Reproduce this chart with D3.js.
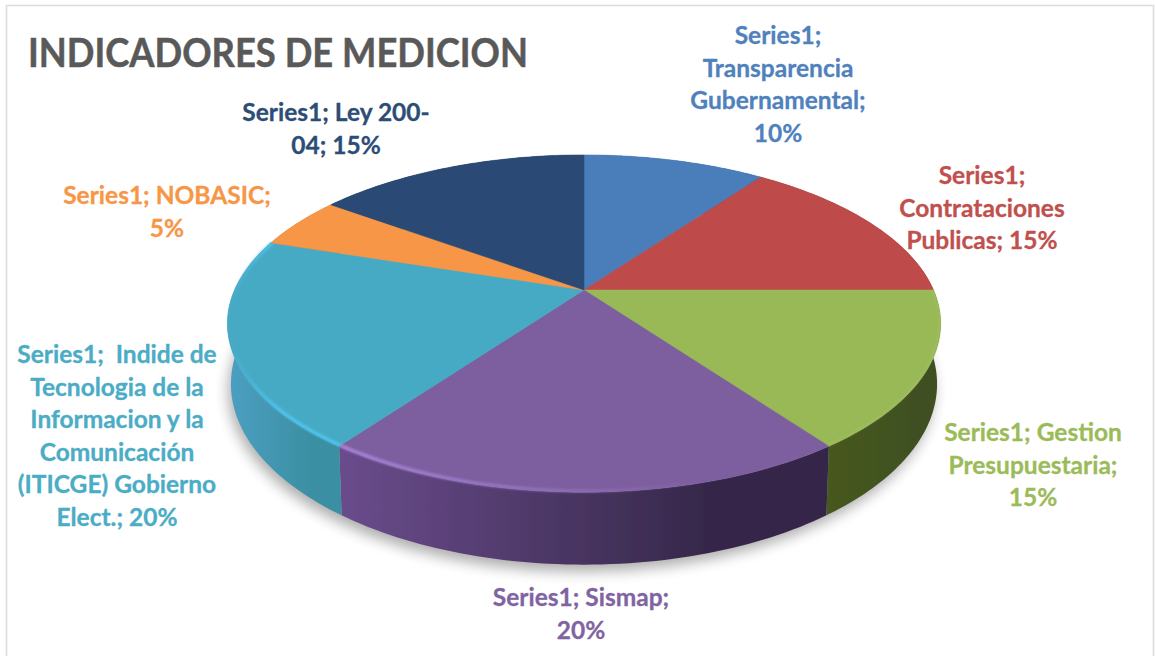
<!DOCTYPE html>
<html><head><meta charset="utf-8">
<script src="https://cdn.jsdelivr.net/npm/d3@7/dist/d3.min.js"></script>
<style>html,body{margin:0;background:#fff}svg{display:block}</style>
</head><body><div id="c"></div>
<script>
const chartTitle = "INDICADORES DE MEDICION";
const categories = ["Transparencia Gubernamental","Contrataciones Publicas","Gestion Presupuestaria","Sismap","Indide de Tecnologia de la Informacion y la Comunicación (ITICGE) Gobierno Elect.","NOBASIC","Ley 200-04"];
const values = [10,15,15,20,20,5,15];
const faceColors = ["#4a7ebb","#be4b48","#98b954","#7d5fa0","#46aac5","#f79646","#2a4a74"];
const sideLeft  = ["#34598a","#7a2f2d","#47581f","#6a4c8c","#4c9fc2","#b06a2f","#1c3350"];
const sideRight = ["#34598a","#6e2a28","#3f5020","#36284a","#3b8fa2","#b06a2f","#1c3350"];
const rimColors = [null,null,"#a9c472","#a883d6","#4fc3ee",null,null];
const labelColors = ["#4f81bd","#c0504d","#9bbb59","#8064a2","#4bacc6","#f79646","#2c4d75"];
const labelLines = [
  ["Series1;","Transparencia","Gubernamental;","10%"],
  ["Series1;","Contrataciones","Publicas; 15%"],
  ["Series1; Gestion","Presupuestaria;","15%"],
  ["Series1; Sismap;","20%"],
  ["Series1;  Indide de","Tecnologia de la","Informacion y la","Comunicación","(ITICGE) Gobierno","Elect.; 20%"],
  ["Series1; NOBASIC;","5%"],
  ["Series1; Ley 200-","04; 15%"]
];

const W = 1156, H = 656;
const labelCenterX = [778,982,1033,581,117,167,336];
const labelFirstBaseline = [44,184,441,606,363,204,121];
const lineStep = 32.6;

const svg = d3.select("#c").append("svg").attr("width",W).attr("height",H);
const defs = svg.append("defs");
const addBlur = (id,s)=>defs.append("filter").attr("id",id)
  .attr("x","-20%").attr("y","-20%").attr("width","140%").attr("height","140%")
  .append("feGaussianBlur").attr("stdDeviation",s);
addBlur("shadow",7); addBlur("soft",0.7); addBlur("rim",1.1);

// frame
svg.append("path").attr("d",`M6.5,${H} V5.5 H1153.5 V${H}`).attr("fill","none").attr("stroke","#dcdcdc").attr("stroke-width",1.6);

// perspective projection of a tilted disc
const cx = 584, cy = 290, a = 349.5, b = 162, k = 0.199, depth = 58, shrink = 0.99;
const upper = t => { const x=Math.sin(t), y=-Math.cos(t), w=1-k*y; return [cx+a*x/w, cy+b*y/w]; };
const lower = t => { const x=Math.sin(t), y=-Math.cos(t), w=1-k*y; return [cx+shrink*a*x/w, cy+(b*y+depth)/w]; };
const pathOf = d3.line();
const arcPts = (f,t0,t1) => d3.range(0,61).map(i=>f(t0+(t1-t0)*i/60));

const arcs = d3.pie().sort(null)(values);

// drop shadow
const full = arcPts(lower,0,2*Math.PI);
svg.append("path").attr("d",pathOf(full)+"Z").attr("transform","translate(-3,7)")
  .attr("fill","#000").attr("opacity",0.32).attr("filter","url(#shadow)");

const pieG = svg.append("g").attr("filter","url(#soft)");

// side walls
const sides = pieG.append("g");
arcs.forEach((d,i)=>{
  const t0=d.startAngle, t1=d.endAngle;
  const p = arcPts(upper,t0,t1), q = arcPts(lower,t0,t1).reverse();
  const xs = p.map(v=>v[0]);
  const g = defs.append("linearGradient").attr("id","side"+i).attr("gradientUnits","userSpaceOnUse")
    .attr("x1",d3.min(xs)).attr("x2",d3.max(xs)).attr("y1",0).attr("y2",0);
  g.append("stop").attr("offset",0).attr("stop-color",sideLeft[i]);
  g.append("stop").attr("offset",0.75).attr("stop-color",sideRight[i]);
  g.append("stop").attr("offset",1).attr("stop-color",sideRight[i]);
  sides.append("path").attr("d",pathOf(p.concat(q))+"Z").attr("fill",`url(#side${i})`);
});

// top faces
const faces = pieG.append("g");
arcs.forEach((d,i)=>{
  faces.append("path")
    .attr("d",pathOf([[cx,cy]].concat(arcPts(upper,d.startAngle,d.endAngle)))+"Z")
    .attr("fill",faceColors[i]).attr("stroke",faceColors[i]).attr("stroke-width",0.5);
});

// rim highlights, fading along the rim
const rimFade = [null,null,[0.5,0.5],[1,0],[0,1],null,null];
const rimFadeEnd = [0,0,1,0.75,0.45,0,0];
arcs.forEach((d,i)=>{
  if(!rimColors[i]) return;
  const inset = arcPts(upper,d.startAngle,d.endAngle).map(p=>[p[0]+(cx-p[0])*0.004,p[1]+(cy-p[1])*0.006]);
  const xs = inset.map(v=>v[0]);
  const g = defs.append("linearGradient").attr("id","rimg"+i).attr("gradientUnits","userSpaceOnUse")
    .attr("x1",d3.min(xs)).attr("x2",d3.max(xs)).attr("y1",0).attr("y2",0);
  g.append("stop").attr("offset",i===4?0.02:0).attr("stop-color",rimColors[i]).attr("stop-opacity",rimFade[i][0]);
  g.append("stop").attr("offset",rimFadeEnd[i]).attr("stop-color",rimColors[i]).attr("stop-opacity",rimFade[i][1]);
  svg.append("path").attr("d",pathOf(inset)).attr("fill","none")
    .attr("stroke",`url(#rimg${i})`).attr("stroke-width",i===2?1.6:3.5).attr("filter","url(#rim)");
});

// title
svg.append("text").attr("x",28).attr("y",67).text(chartTitle)
  .attr("font-family","Lato, 'Open Sans', sans-serif").attr("font-weight",700)
  .attr("font-size",40).attr("fill","#595959").attr("stroke","#595959").attr("stroke-width",0.5)
  .attr("textLength",500).attr("lengthAdjust","spacingAndGlyphs");

// data labels
labelLines.forEach((lines,i)=>{
  const t = svg.append("text").attr("text-anchor","middle")
    .attr("font-family","Lato, 'Open Sans', sans-serif").attr("font-weight",700)
    .attr("font-size",24.5).attr("fill",labelColors[i])
    .attr("stroke",labelColors[i]).attr("stroke-width",0.3).attr("xml:space","preserve");
  lines.forEach((s,j)=>t.append("tspan").attr("x",labelCenterX[i])
    .attr("y",labelFirstBaseline[i]+j*lineStep).text(s));
});
</script></body></html>
